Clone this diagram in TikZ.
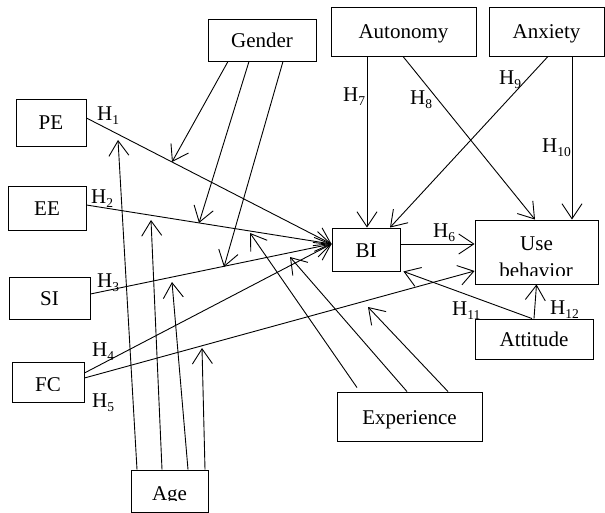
\documentclass[tikz,border=0pt]{standalone}
\usepackage{fontspec}
\setmainfont{Liberation Serif}
\usetikzlibrary{arrows.meta}
\newcommand\Hsub[1]{H\raisebox{-4pt}{\fontsize{13.5}{14}\selectfont #1}}
\begin{document}
\begin{tikzpicture}[x=1pt,y=-1pt,
  box/.style={draw, line width=0.9pt, inner sep=0pt, text height=15pt, text depth=0pt, font=\fontsize{21}{25}\selectfont},
  lbl/.style={anchor=base west, inner sep=0pt, font=\fontsize{21}{25}\selectfont},
  txt/.style={anchor=base, inner sep=0pt, font=\fontsize{21}{25}\selectfont},
  conn/.style={line width=0.9pt, -{Straight Barb[length=15pt,width=20pt]}},
]
\useasboundingbox (0,0) rectangle (605,513);

% boxes
\node[box, minimum width=108pt, minimum height=42pt] (gender) at (262,40) {Gender};
\node[box, minimum width=70pt, minimum height=47pt] (pe) at (51,122.5) {PE};
\node[box, minimum width=78pt, minimum height=44pt] (ee) at (47,208) {EE};
\node[box, minimum width=81pt, minimum height=42pt] (si) at (49.5,298) {SI};
\node[box, minimum width=72pt, minimum height=40pt] (fc) at (48,382) {};
\node[box, minimum width=77pt, minimum height=42pt] (age) at (169.5,491) {};
\node[box, minimum width=145pt, minimum height=49pt] (autonomy) at (403.5,31.5) {Autonomy};
\node[box, minimum width=115pt, minimum height=49pt] (anxiety) at (546.5,31.5) {Anxiety};
\node[box, minimum width=68pt, minimum height=43pt] (bi) at (366,249.5) {BI};
\node[box, minimum width=123pt, minimum height=64pt] (use) at (536.5,252) {};
\node[box, minimum width=118pt, minimum height=40pt] (attitude) at (534,339) {Attitude};
\node[box, minimum width=145pt, minimum height=49pt] (experience) at (409.5,416.5) {Experience};

% clipped texts
\begin{scope}
\clip (476,221) rectangle (597,275);
\node[txt] (usetxta) at (536.5,250.6) {Use};
\node[txt] (usetxtb) at (536,277.6) {behavior};
\end{scope}
\begin{scope}
\clip (13,363) rectangle (83,390.5);
\node[txt] (fctxt) at (48,391.7) {FC};
\end{scope}
\begin{scope}
\clip (132,471) rectangle (207,500.5);
\node[txt] (agetxt) at (169.5,500) {Age};
\end{scope}

% free ends of moderator arrows
\coordinate (g1) at (172,162);
\coordinate (g2) at (199,223);
\coordinate (g3) at (224,267);
\coordinate (a1) at (118,140);
\coordinate (a2) at (151,220);
\coordinate (a3) at (172,282);
\coordinate (a4) at (202,348);
\coordinate (e1) at (250,233);
\coordinate (e2) at (290,257);
\coordinate (e3) at (368,307);

% main paths
\draw[conn] ([yshift=4.5pt]pe.east) -- ([yshift=5.5pt]bi.west);
\draw[conn] ([yshift=3pt]ee.east) -- ([yshift=5.5pt]bi.west);
\draw[conn] ([yshift=4pt]si.east) -- ([yshift=5.5pt]bi.west);
\draw[conn] ([yshift=9pt]fc.east) -- ([yshift=5.5pt]bi.west);
\draw[conn] ([yshift=4pt]fc.east) -- ([yshift=-19pt]use.west);
\draw[conn] ([yshift=5.5pt]bi.east) -- ([yshift=8pt]use.west);
\draw[conn] ([xshift=-36.5pt]autonomy.south) -- ([xshift=1pt]bi.north);
\draw[conn] ([xshift=-0.5pt]autonomy.south) -- ([xshift=-1.5pt]use.north);
\draw[conn] ([xshift=1.5pt]anxiety.south) -- ([xshift=24pt]bi.north);
\draw[conn] ([xshift=25.5pt]anxiety.south) -- ([xshift=35.5pt]use.north);
\draw[conn] ([xshift=-2pt]attitude.north) -- ([xshift=3pt]bi.south east);
\draw[conn] (attitude.north) -- (use.south);

% moderators
\draw[conn] ([xshift=-34pt]gender.south) -- (g1);
\draw[conn] ([xshift=-13pt]gender.south) -- (g2);
\draw[conn] ([xshift=21pt]gender.south) -- (g3);
\draw[conn] ([xshift=-32.5pt]age.north) -- (a1);
\draw[conn] ([xshift=-7.5pt]age.north) -- (a2);
\draw[conn] ([xshift=18.5pt]age.north) -- (a3);
\draw[conn] ([xshift=35.5pt]age.north) -- (a4);
\draw[conn] ([xshift=-52.5pt,yshift=4pt]experience.north) -- (e1);
\draw[conn] ([xshift=-2.5pt]experience.north) -- (e2);
\draw[conn] ([xshift=38.5pt]experience.north) -- (e3);

% hypothesis labels
\node[lbl] (h1) at (97,121) {\Hsub{1}};
\node[lbl] (h2) at (91,204) {\Hsub{2}};
\node[lbl] (h3) at (97,287) {\Hsub{3}};
\node[lbl] (h4) at (92,356) {\Hsub{4}};
\node[lbl] (h5) at (92,407) {\Hsub{5}};
\node[lbl] (h6) at (433,237) {\Hsub{6}};
\node[lbl] (h7) at (343,102) {\Hsub{7}};
\node[lbl] (h8) at (410,105) {\Hsub{8}};
\node[lbl] (h9) at (499,85) {\Hsub{9}};
\node[lbl] (h10) at (542,153) {\Hsub{10}};
\node[lbl] (h11) at (452,315) {\Hsub{11}};
\node[lbl] (h12) at (550,314) {\Hsub{12}};
\end{tikzpicture}
\end{document}
